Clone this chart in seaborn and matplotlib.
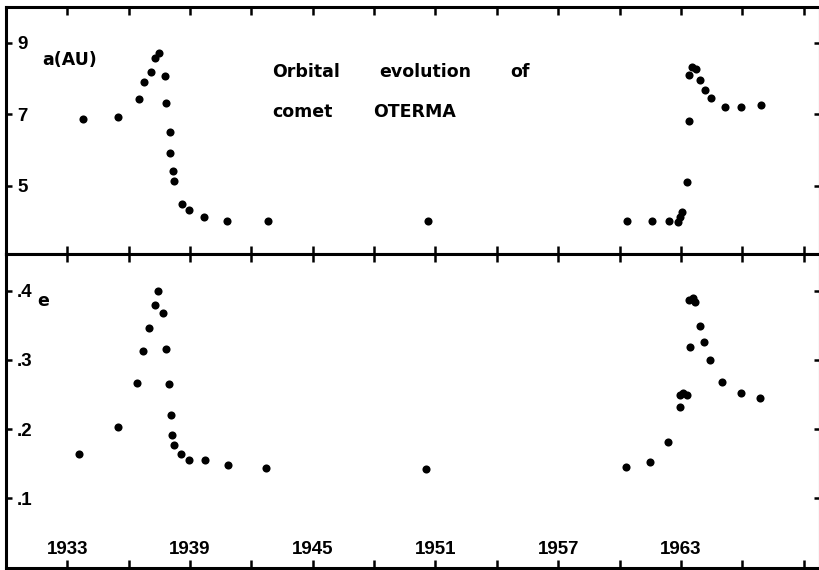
import matplotlib
matplotlib.use("Agg")
import matplotlib.pyplot as plt
import seaborn as sns
import pandas as pd

# data: semi-major axis a (AU) and eccentricity e vs year
a_years = [1933.75, 1935.5, 1936.5, 1936.77, 1937.1, 1937.27, 1937.47, 1937.78, 1937.84,
           1938.0, 1938.03, 1938.15, 1938.22, 1938.62, 1938.93, 1939.7, 1940.8, 1942.8,
           1950.64, 1960.35, 1961.6, 1962.4, 1962.85, 1962.96, 1963.06, 1963.32, 1963.41,
           1963.41, 1963.53, 1963.74, 1963.93, 1964.2, 1964.46, 1965.16, 1965.93, 1966.9]
a_vals = [6.87, 6.94, 7.43, 7.90, 8.18, 8.57, 8.71, 8.07, 7.32,
          6.50, 5.92, 5.42, 5.15, 4.51, 4.32, 4.13, 4.03, 4.03,
          4.02, 4.02, 4.03, 4.03, 4.00, 4.14, 4.28, 5.10, 6.82,
          8.09, 8.33, 8.27, 7.96, 7.68, 7.46, 7.22, 7.22, 7.26]

e_years = [1933.55, 1935.5, 1936.43, 1936.72, 1936.98, 1937.28, 1937.45, 1937.7, 1937.83,
           1937.98, 1938.06, 1938.14, 1938.2, 1938.55, 1938.94, 1939.74, 1940.85, 1942.7,
           1950.55, 1960.31, 1961.47, 1962.35, 1962.96, 1962.96, 1963.12, 1963.32, 1963.45,
           1963.38, 1963.6, 1963.67, 1963.93, 1964.14, 1964.4, 1964.99, 1965.93, 1966.86]
e_vals = [0.164, 0.203, 0.267, 0.313, 0.346, 0.379, 0.400, 0.368, 0.316,
          0.266, 0.220, 0.191, 0.177, 0.164, 0.156, 0.155, 0.149, 0.144,
          0.143, 0.146, 0.153, 0.182, 0.232, 0.249, 0.253, 0.249, 0.318,
          0.386, 0.390, 0.383, 0.349, 0.326, 0.300, 0.268, 0.252, 0.245]

x_ticks = list(range(1933, 1970, 3))
x_labels = ["1933", "", "1939", "", "1945", "", "1951", "", "1957", "", "1963", "", ""]
a_ticks = [5, 7, 9]
a_tick_labels = ["5", "7", "9"]
e_ticks = [0.1, 0.2, 0.3, 0.4]
e_tick_labels = [".1", ".2", ".3", ".4"]

df_a = pd.DataFrame({"year": a_years, "a": a_vals})
df_e = pd.DataFrame({"year": e_years, "e": e_vals})

sns.set_style("white")
plt.rcParams["font.family"] = ["Liberation Sans", "DejaVu Sans"]
plt.rcParams["text.color"] = "black"
plt.rcParams["xtick.color"] = "black"
plt.rcParams["ytick.color"] = "black"

fig = plt.figure(figsize=(8.19, 5.70), dpi=100)
ax_a = fig.add_axes([0.0073, 0.5544, 0.9939, 0.4333])
ax_e = fig.add_axes([0.0073, 0.0040, 0.9939, 0.5504])

sns.scatterplot(data=df_a, x="year", y="a", ax=ax_a, color="black", s=34, linewidth=0)
sns.scatterplot(data=df_e, x="year", y="e", ax=ax_e, color="black", s=34, linewidth=0)

for ax in (ax_a, ax_e):
    ax.set_xlim(1930, 1969.8)
    ax.set_xlabel("")
    ax.set_ylabel("")
    for sp in ax.spines.values():
        sp.set_linewidth(2.2)
        sp.set_color("black")
    ax.set_xticks(x_ticks)
    ax.tick_params(axis="x", which="major", direction="in", length=6, width=1.8,
                   top=True, bottom=True, color="black")
    ax.tick_params(axis="y", which="major", direction="in", length=4, width=1.8,
                   left=True, right=True, color="black", pad=-8,
                   labelsize=13.5)

ax_a.set_ylim(3.1, 10.0)
ax_a.set_yticks(a_ticks)
ax_a.set_yticklabels(a_tick_labels, fontweight="bold")
ax_a.set_xticklabels([])

ax_e.set_ylim(0, 0.453)
ax_e.set_yticks(e_ticks)
ax_e.set_yticklabels(e_tick_labels, fontweight="bold")
ax_e.set_xticklabels(x_labels, fontweight="bold")
ax_e.tick_params(axis="x", pad=-19, labelsize=13.5)

for ax in (ax_a, ax_e):
    for lbl in ax.get_yticklabels():
        lbl.set_horizontalalignment("left")

# panel labels and title words
txt = dict(fontsize=12.5, fontweight="bold", family="DejaVu Sans", va="center", color="black")
ax_a.text(0.044, 0.785, "a(AU)", transform=ax_a.transAxes, **txt)
ax_a.text(0.327, 0.737, "Orbital", transform=ax_a.transAxes, **txt)
ax_a.text(0.459, 0.737, "evolution", transform=ax_a.transAxes, **txt)
ax_a.text(0.619, 0.737, "of", transform=ax_a.transAxes, **txt)
ax_a.text(0.327, 0.575, "comet", transform=ax_a.transAxes, **txt)
ax_a.text(0.451, 0.575, "OTERMA", transform=ax_a.transAxes, **txt)
ax_e.text(0.046, 0.85, "e", transform=ax_e.transAxes, ha="center", **txt)

fig.savefig("out.png", dpi=100)
